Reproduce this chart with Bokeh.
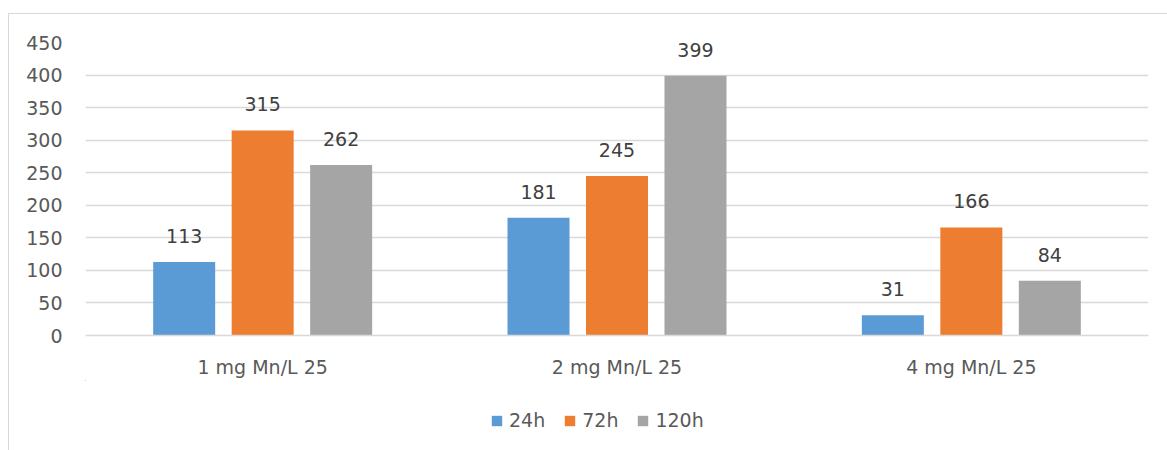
from bokeh.plotting import figure
from bokeh.layouts import column
from bokeh.models import ColumnDataSource, FactorRange, Range1d, Legend, LegendItem
from bokeh.transform import dodge
from bokeh.core.properties import value
from bokeh.embed import file_html
from bokeh.resources import INLINE

categories = ["1 mg Mn/L 25", "2 mg Mn/L 25", "4 mg Mn/L 25"]
series_names = ["24h", "72h", "120h"]
v24 = [113, 181, 31]
v72 = [315, 245, 166]
v120 = [262, 399, 84]
colors = ["#5B9BD5", "#ED7D31", "#A5A5A5"]
y_ticks = [0, 50, 100, 150, 200, 250, 300, 350, 400, 450]

FONT = "DejaVu Sans"
FS = "19px"

src = ColumnDataSource(dict(cat=categories, v24=v24, v72=v72, v120=v120,
                            l24=[str(v) for v in v24], l72=[str(v) for v in v72],
                            l120=[str(v) for v in v120]))

p = figure(x_range=FactorRange(*categories, range_padding=0), y_range=Range1d(0, 450),
           width=1158, height=366, output_backend="svg", toolbar_location=None,
           min_border_left=76, min_border_right=19, min_border_top=28, min_border_bottom=44,
           margin=0)
p.outline_line_color = None
p.background_fill_color = "white"
p.border_fill_color = "white"

offsets = [-0.2215, 0.0, 0.2215]
keys = ["v24", "v72", "v120"]
lkeys = ["l24", "l72", "l120"]
for off, k, lk, c in zip(offsets, keys, lkeys, colors):
    p.vbar(x=dodge("cat", off, range=p.x_range), top=k, width=0.175, source=src,
           fill_color=c, line_color=None)
    p.text(x=dodge("cat", off, range=p.x_range), y=k, text=lk, source=src,
           text_align="center", text_baseline="alphabetic", y_offset=-26,
           text_font=value(FONT), text_font_size=FS, text_color="#404040")

p.xgrid.grid_line_color = None
p.ygrid.grid_line_color = "#d9d9d9"
p.ygrid.grid_line_width = 1.3
p.yaxis.ticker = y_ticks
p.yaxis.axis_line_color = None
p.yaxis.major_tick_line_color = None
p.yaxis.minor_tick_line_color = None
p.yaxis.major_tick_out = 0
p.yaxis.major_label_standoff = 23
p.yaxis.major_label_text_font = FONT
p.yaxis.major_label_text_font_size = FS
p.yaxis.major_label_text_color = "#595959"

p.xaxis.axis_line_color = "#d9d9d9"
p.xaxis.axis_line_width = 1.3
p.xaxis.major_tick_line_color = None
p.xaxis.minor_tick_line_color = None
p.xaxis.major_tick_out = 0
p.xaxis.major_label_standoff = 20
p.xaxis.major_label_text_font = FONT
p.xaxis.major_label_text_font_size = FS
p.xaxis.major_label_text_color = "#595959"

# legend strip below the plot (series bars of zero width, outside its visible range)
lf = figure(x_range=Range1d(100, 101), y_range=Range1d(-2000, -1999), width=1158, height=70,
            output_backend="svg", toolbar_location=None,
            x_axis_location=None, y_axis_location=None,
            min_border=0, margin=0)
lf.outline_line_color = None
lf.xgrid.grid_line_color = None
lf.ygrid.grid_line_color = None
lf.border_fill_color = "white"
lf.background_fill_color = "white"
leg_renderers = [lf.vbar(x=0, top=k, width=0, source=src, fill_color=c, line_color=None)
                 for k, c in zip(keys, colors)]
legend = Legend(items=[LegendItem(label=n, renderers=[r]) for n, r in zip(series_names, leg_renderers)],
                orientation="horizontal", location=(405, 19),
                glyph_width=13, glyph_height=13, label_text_font=FONT,
                label_text_font_size=FS, label_text_color="#595959",
                spacing=18, padding=0, margin=0, border_line_color=None,
                background_fill_alpha=0, label_standoff=6)
lf.add_layout(legend, "center")

layout = column(p, lf, spacing=0, margin=(13, 0, 0, 8),
                styles={"border-top": "1px solid #d9d9d9", "border-left": "1px solid #d9d9d9"})

open("out.html", "w").write(file_html(layout, INLINE))
